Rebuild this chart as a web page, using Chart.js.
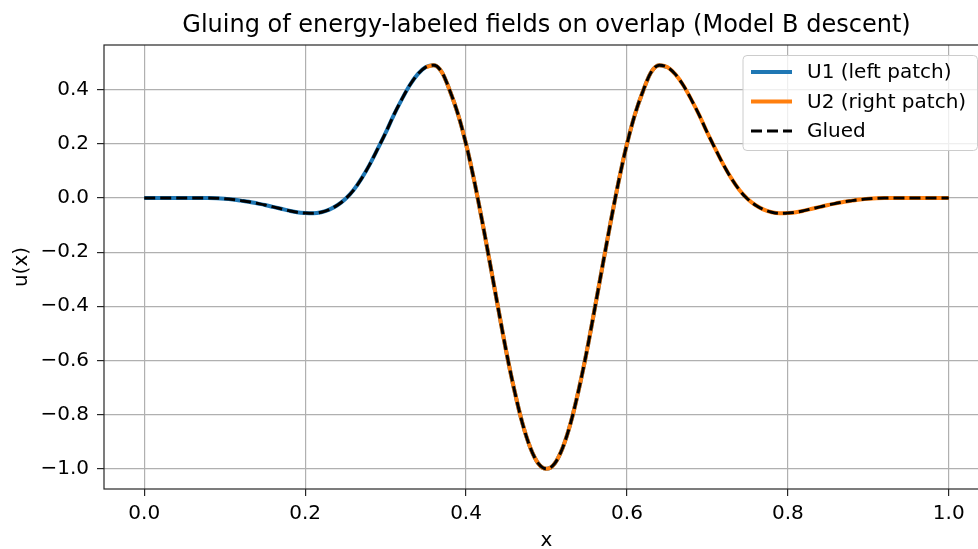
<!DOCTYPE html>
<html>
<head>
<meta charset="utf-8">
<title>Gluing of energy-labeled fields</title>
<script src="https://cdn.jsdelivr.net/npm/chart.js@4.4.1/dist/chart.umd.min.js"></script>
<style>
  html, body { margin: 0; padding: 0; background: #fff; overflow: hidden; }
  #wrap { width: 978px; height: 549px; overflow: hidden; position: relative; }
  canvas { display: block; }
</style>
</head>
<body>
<div id="wrap"><canvas id="gluing" width="1010" height="549"></canvas></div>
<script>
// sample grid along x
const xValues = [
  0.00, 0.01, 0.02, 0.03, 0.04, 0.05, 0.06, 0.07, 0.08, 0.09,
  0.10, 0.11, 0.12, 0.13, 0.14, 0.15, 0.16, 0.17, 0.18, 0.19,
  0.20, 0.21, 0.22, 0.23, 0.24, 0.25, 0.26, 0.27, 0.28, 0.29,
  0.30, 0.31, 0.32, 0.33, 0.34, 0.35, 0.36, 0.37, 0.38, 0.39,
  0.40, 0.41, 0.42, 0.43, 0.44, 0.45, 0.46, 0.47, 0.48, 0.49,
  0.50,
  0.51, 0.52, 0.53, 0.54, 0.55, 0.56, 0.57, 0.58, 0.59, 0.60,
  0.61, 0.62, 0.63, 0.64, 0.65, 0.66, 0.67, 0.68, 0.69, 0.70,
  0.71, 0.72, 0.73, 0.74, 0.75, 0.76, 0.77, 0.78, 0.79, 0.80,
  0.81, 0.82, 0.83, 0.84, 0.85, 0.86, 0.87, 0.88, 0.89, 0.90,
  0.91, 0.92, 0.93, 0.94, 0.95, 0.96, 0.97, 0.98, 0.99, 1.00
];

// glued field u(x)
const uGlued = [
  0, 0, 0, 0, 0, 0, 0, 0, 0, -0.001,
  -0.003, -0.006, -0.010, -0.014, -0.020, -0.026, -0.033, -0.040, -0.047, -0.053,
  -0.056, -0.057, -0.053, -0.043, -0.027, -0.004, 0.028, 0.071, 0.122, 0.180,
  0.240, 0.305, 0.363, 0.416, 0.457, 0.483, 0.490, 0.464, 0.395, 0.309,
  0.199, 0.066, -0.085, -0.245, -0.408, -0.567, -0.709, -0.831, -0.923, -0.981,
  -1.000,
  -0.981, -0.923, -0.831, -0.709, -0.567, -0.408, -0.245, -0.085, 0.066, 0.199,
  0.309, 0.395, 0.464, 0.490, 0.483, 0.457, 0.416, 0.363, 0.305, 0.240,
  0.180, 0.122, 0.071, 0.028, -0.004, -0.027, -0.043, -0.053, -0.057, -0.056,
  -0.053, -0.047, -0.040, -0.033, -0.026, -0.020, -0.014, -0.010, -0.006, -0.003,
  -0.001, 0, 0, 0, 0, 0, 0, 0, 0, 0
];

// patch extents
const leftPatchEnd = 0.65;
const rightPatchStart = 0.35;

const xTicks = [0.0, 0.2, 0.4, 0.6, 0.8, 1.0];
const yTicks = [-1.0, -0.8, -0.6, -0.4, -0.2, 0.0, 0.2, 0.4];
const xRange = [-0.05, 1.05];
const yRange = [-1.0745, 0.5645];

const titleText = 'Gluing of energy-labeled fields on overlap (Model B descent)';
const FONT = '"DejaVu Sans", "Liberation Sans", sans-serif';

const pts = xValues.map((x, i) => ({ x: x, y: uGlued[i] }));
const u1 = pts.filter(p => p.x <= leftPatchEnd);
const u2 = pts.filter(p => p.x >= rightPatchStart);

const fmt = v => (v < 0 ? '\u2212' + Math.abs(v).toFixed(1) : v.toFixed(1));

// title centred over the axes, box frame, and matplotlib-like legend
const mplBits = {
  id: 'mplBits',
  afterDatasetsDraw(chart) {
    const { ctx, chartArea: a } = chart;
    ctx.save();
    ctx.strokeStyle = '#262626';
    ctx.lineWidth = 1.2;
    ctx.strokeRect(a.left, a.top, a.right - a.left, a.bottom - a.top);
    ctx.restore();
  },
  afterDraw(chart) {
    const { ctx, chartArea: a } = chart;
    ctx.save();
    ctx.fillStyle = '#000';
    ctx.font = '24px ' + FONT;
    ctx.textAlign = 'center';
    ctx.textBaseline = 'alphabetic';
    ctx.fillText(titleText, (a.left + a.right) / 2, 32);

    // legend
    const bx = 743, by = 55.5, bw = 234.5, bh = 95, r = 4;
    ctx.beginPath();
    ctx.moveTo(bx + r, by);
    ctx.arcTo(bx + bw, by, bx + bw, by + bh, r);
    ctx.arcTo(bx + bw, by + bh, bx, by + bh, r);
    ctx.arcTo(bx, by + bh, bx, by, r);
    ctx.arcTo(bx, by, bx + bw, by, r);
    ctx.closePath();
    ctx.fillStyle = 'rgba(255,255,255,0.8)';
    ctx.fill();
    ctx.strokeStyle = '#cccccc';
    ctx.lineWidth = 1;
    ctx.stroke();

    const rows = [72, 101.5, 131];
    ctx.font = '20px ' + FONT;
    ctx.textAlign = 'left';
    ctx.textBaseline = 'middle';
    chart.data.datasets.forEach((ds, i) => {
      const y = rows[i];
      ctx.beginPath();
      ctx.setLineDash(ds.borderDash || []);
      ctx.strokeStyle = ds.borderColor;
      ctx.lineWidth = ds.borderWidth;
      ctx.moveTo(751, y);
      ctx.lineTo(792, y);
      ctx.stroke();
      ctx.setLineDash([]);
      ctx.fillStyle = '#000';
      ctx.fillText(ds.label, 807, y + 1);
    });
    ctx.restore();
  }
};

new Chart(document.getElementById('gluing'), {
  type: 'line',
  data: {
    datasets: [
      { label: 'U1 (left patch)', data: u1, borderColor: '#1f77b4', borderWidth: 4, order: 3 },
      { label: 'U2 (right patch)', data: u2, borderColor: '#ff7f0e', borderWidth: 4, order: 2 },
      { label: 'Glued', data: pts, borderColor: '#000000', borderWidth: 3, borderDash: [11, 5], order: 1 }
    ]
  },
  options: {
    responsive: false,
    animation: false,
    devicePixelRatio: 1,
    layout: { padding: { left: 0, right: 21, top: 45, bottom: 0 } },
    elements: {
      point: { radius: 0 },
      line: { cubicInterpolationMode: 'monotone', borderCapStyle: 'butt', fill: false }
    },
    plugins: { legend: { display: false }, tooltip: { enabled: false } },
    scales: {
      x: {
        type: 'linear',
        min: xRange[0],
        max: xRange[1],
        afterBuildTicks: s => { s.ticks = xTicks.map(v => ({ value: v })); },
        afterFit: s => { s.height = 60; },
        ticks: { callback: fmt, color: '#000', font: { family: FONT, size: 20 }, padding: 6, maxRotation: 0, autoSkip: false },
        grid: { color: '#b0b0b0', lineWidth: 1.2, tickColor: '#262626', tickLength: 7, tickWidth: 1.2 },
        border: { display: false },
        title: { display: true, text: 'x', color: '#000', font: { family: FONT, size: 20, lineHeight: 0.8 }, padding: { top: 0, bottom: 0 } }
      },
      y: {
        type: 'linear',
        min: yRange[0],
        max: yRange[1],
        afterBuildTicks: s => { s.ticks = yTicks.map(v => ({ value: v })); },
        afterFit: s => { s.width = 104; },
        ticks: { callback: fmt, color: '#000', font: { family: FONT, size: 20 }, padding: 8, autoSkip: false },
        grid: { color: '#b0b0b0', lineWidth: 1.2, tickColor: '#262626', tickLength: 7, tickWidth: 1.2 },
        border: { display: false },
        title: { display: true, text: 'u(x)', color: '#000', font: { family: FONT, size: 20 }, padding: { top: 10, bottom: 0 } }
      }
    }
  },
  plugins: [mplBits]
});
</script>
</body>
</html>
